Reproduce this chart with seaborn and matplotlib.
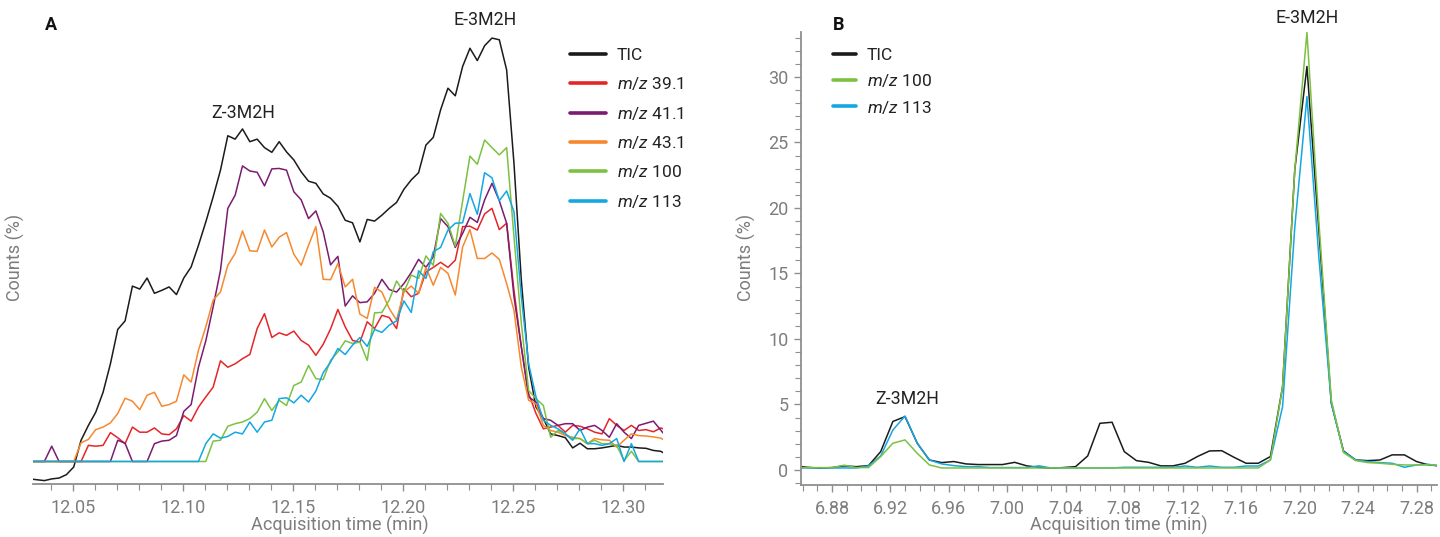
import numpy as np
import pandas as pd
import matplotlib
matplotlib.use("Agg")
import matplotlib.pyplot as plt
from matplotlib.ticker import MultipleLocator
from matplotlib.lines import Line2D
import seaborn as sns

sns.set_theme(style="white")
plt.rcParams['font.family'] = ['Roboto', 'DejaVu Sans']
plt.rcParams['mathtext.fontset'] = 'custom'
plt.rcParams['mathtext.rm'] = 'Roboto'
plt.rcParams['mathtext.it'] = 'Roboto:italic'

# ---------------- Panel A data (scan every 0.2 s) ----------------
a_start = 12.0303
a_step = 1 / 300
tic_a = [-4.1, -4.3, -4.5, -4.1, -3.9, -3.1, -1.3, 5.0, 8.5, 11.6, 16.3, 23.0, 31.1, 33.1, 41.3, 40.6,
         43.2, 39.6, 40.3, 41.1, 39.3, 43.2, 45.8, 50.9, 56.4, 62.3, 68.6, 76.7, 75.9, 78.3, 75.3, 75.9,
         73.9, 72.8, 75.3, 72.9, 71.0, 68.2, 66.0, 65.5, 63.0, 62.0, 60.1, 56.8, 56.2, 51.7, 57.0, 56.6,
         58.0, 59.6, 61.0, 64.1, 66.3, 68.0, 74.5, 76.3, 82.8, 87.9, 86.1, 93.0, 97.3, 94.4, 97.9, 99.7,
         99.3, 92.2, 70.2, 42.7, 22.2, 12.8, 10.1, 6.5, 6.1, 5.6, 3.2, 4.3, 3.0, 3.0, 3.2, 3.5,
         3.8, 3.4, 3.4, 3.2, 3.1, 2.6, 2.4, 1.4]
mz39_a = [0, 0, 0, 0, 0, 0, 0, 0, 3.8, 3.6, 3.8, 6.8, 5.6, 4.2, 8.1, 6.9,
          6.9, 7.9, 6.5, 6.3, 7.7, 10.8, 9.5, 12.8, 15.2, 17.5, 23.7, 22.2, 23.0, 24.2, 25.2, 31.3,
          34.8, 29.2, 30.3, 29.7, 30.7, 28.5, 27.4, 25.0, 27.6, 31.2, 35.8, 31.7, 28.5, 28.1, 32.9, 31.3,
          34.4, 33.9, 31.3, 40.7, 38.8, 39.6, 44.6, 45.7, 46.9, 45.7, 47.4, 55.3, 55.4, 54.5, 58.3, 59.6,
          54.6, 56.1, 40.3, 27.0, 16.0, 11.3, 7.7, 8.1, 8.5, 6.9, 8.5, 8.3, 7.7, 6.9, 6.5, 10.1,
          8.5, 7.3, 8.5, 7.3, 7.5, 7.0, 7.9, 7.3]
mz41_a = [0, 0, 0, 3.6, 0, 0, 0, 0, 0, 0, 0, 0, 5.0, 4.3, 0, 0,
          0, 4.2, 4.8, 5.0, 6.1, 11.8, 13.4, 22.2, 28.4, 36.4, 45.0, 59.6, 62.7, 69.6, 68.4, 68.1,
          64.9, 68.9, 69.0, 68.6, 63.5, 61.6, 57.2, 59.0, 54.1, 46.3, 48.3, 36.6, 39.0, 37.4, 37.6, 39.6,
          42.9, 40.5, 39.9, 41.9, 44.5, 47.6, 45.7, 48.2, 57.2, 55.3, 50.4, 53.7, 57.5, 56.3, 61.6, 65.5,
          61.4, 56.1, 38.8, 27.0, 15.2, 14.0, 10.1, 9.7, 8.5, 8.9, 8.9, 7.3, 8.1, 8.5, 7.3, 5.7,
          8.9, 6.9, 5.4, 8.5, 9.0, 9.5, 7.4, 5.3]
mz43_a = [0, 0, 0, 0, 0, 0, 0, 4.4, 5.2, 7.5, 8.1, 9.1, 11.3, 14.9, 14.2, 12.2,
          15.6, 16.3, 13.0, 13.4, 14.2, 20.4, 18.7, 26.2, 31.7, 38.0, 39.9, 46.2, 49.0, 54.3, 49.6, 49.5,
          54.5, 50.5, 52.8, 53.9, 48.8, 46.2, 50.9, 55.3, 42.9, 42.8, 46.6, 41.1, 42.9, 34.7, 33.7, 41.0,
          39.9, 36.0, 33.3, 39.9, 41.3, 39.6, 45.7, 41.5, 45.7, 44.3, 39.2, 50.5, 54.6, 47.8, 47.8, 49.1,
          47.6, 41.9, 35.6, 22.2, 14.4, 13.6, 8.5, 7.3, 6.9, 6.1, 5.7, 5.4, 4.2, 5.4, 5.1, 5.0,
          3.4, 5.0, 6.5, 6.1, 6.0, 5.8, 5.5, 4.5]
mz100_a = [0, 0, 0, 0, 0, 0, 0, 0, 0, 0, 0, 0, 0, 0, 0, 0,
           0, 0, 0, 0, 0, 0, 0, 0, 0, 4.8, 5.0, 8.3, 8.9, 9.3, 10.1, 11.6,
           14.8, 12.0, 14.4, 13.2, 17.9, 18.7, 22.6, 19.5, 19.3, 23.8, 25.8, 28.4, 27.8, 28.1, 23.8, 35.0,
           35.1, 38.0, 42.5, 39.9, 43.9, 43.1, 48.4, 46.2, 58.4, 56.1, 50.7, 61.3, 71.9, 70.0, 75.7, 73.9,
           72.2, 73.9, 52.9, 32.5, 16.7, 14.8, 13.2, 5.7, 7.3, 6.5, 5.4, 5.4, 4.2, 5.0, 4.2, 4.2,
           3.8, 0.2, 2.4, 0, 0, 0, 0, 0]
mz113_a = [0, 0, 0, 0, 0, 0, 0, 0, 0, 0, 0, 0, 0, 0, 0, 0,
           0, 0, 0, 0, 0, 0, 0, 0, 4.2, 6.5, 5.5, 5.9, 6.9, 6.5, 9.3, 6.9,
           9.3, 9.7, 14.8, 15.0, 13.8, 15.6, 14.0, 16.6, 20.9, 23.4, 26.6, 25.2, 27.4, 29.2, 27.1, 31.1,
           30.4, 32.1, 33.1, 37.8, 35.1, 44.9, 43.1, 49.4, 50.4, 54.5, 56.1, 56.2, 63.1, 58.2, 68.0, 66.8,
           61.4, 63.7, 58.8, 38.8, 23.0, 15.2, 9.7, 8.5, 7.7, 6.5, 5.0, 7.7, 4.2, 4.2, 3.8, 4.2,
           5.4, 0, 4.2, 0, 0, 0, 0, 0]

# ---------------- Panel B data (scan every 0.5 s) ----------------
b_start = 6.855
b_step = 1 / 120
tic_b = [0.31, 0.2, 0.13, 0.18, 0.31, 0.25, 0.33, 1.4, 3.7, 4.07, 2.04, 0.76, 0.56, 0.64, 0.46, 0.41,
         0.41, 0.41, 0.58, 0.31, 0.2, 0.13, 0.18, 0.25, 1.07, 3.56, 3.64, 1.4, 0.71, 0.58, 0.31, 0.31,
         0.51, 1.02, 1.45, 1.47, 0.97, 0.51, 0.51, 1.02, 6.36, 22.9, 30.8, 18.0, 5.1, 1.45, 0.76, 0.71,
         0.76, 1.15, 1.15, 0.64, 0.38, 0.31]
mz100_b = [0.18, 0.18, 0.18, 0.18, 0.36, 0.18, 0.18, 1.02, 2.04, 2.29, 1.27, 0.38, 0.15, 0.15, 0.15, 0.15,
           0.15, 0.15, 0.15, 0.15, 0.15, 0.15, 0.15, 0.15, 0.15, 0.15, 0.15, 0.15, 0.15, 0.15, 0.15, 0.15,
           0.15, 0.15, 0.15, 0.15, 0.15, 0.15, 0.15, 0.76, 6.36, 22.9, 33.4, 18.7, 5.35, 1.33, 0.71, 0.56,
           0.51, 0.43, 0.38, 0.38, 0.38, 0.38]
mz113_b = [0.15, 0.15, 0.15, 0.15, 0.15, 0.15, 0.31, 1.07, 3.05, 4.12, 2.04, 0.76, 0.46, 0.33, 0.25, 0.25,
           0.18, 0.18, 0.18, 0.18, 0.31, 0.15, 0.15, 0.15, 0.15, 0.15, 0.15, 0.2, 0.2, 0.2, 0.2, 0.2,
           0.3, 0.2, 0.3, 0.2, 0.2, 0.3, 0.3, 0.76, 4.83, 18.5, 28.5, 16.0, 5.1, 1.4, 0.76, 0.64,
           0.56, 0.51, 0.2, 0.38, 0.43, 0.25]

labels_a = ["TIC", "$m/z$ 39.1", "$m/z$ 41.1", "$m/z$ 43.1", "$m/z$ 100", "$m/z$ 113"]
labels_b = ["TIC", "$m/z$ 100", "$m/z$ 113"]
xticks_a = [12.05, 12.10, 12.15, 12.20, 12.25, 12.30]
xticks_b = [6.88, 6.92, 6.96, 7.00, 7.04, 7.08, 7.12, 7.16, 7.20, 7.24, 7.28]
yticks_b = [0, 5, 10, 15, 20, 25, 30]

C_TIC = "#1b1b1b"
C_39 = "#e52629"
C_41 = "#7b1c70"
C_43 = "#f6892f"
C_100 = "#7cc142"
C_113 = "#14a7e2"
GRAY = "#7d7d7d"
SPINE = "#8f8f8f"

W, H = 1440, 537
fig = plt.figure(figsize=(W / 100, H / 100), dpi=100)

def frac(x0, y0, x1, y1):
    return [x0 / W, 1 - y1 / H, (x1 - x0) / W, (y1 - y0) / H]

axA = fig.add_axes(frac(33, 30, 663, 484))
axB = fig.add_axes(frac(801, 31.5, 1437, 485))

tA = a_start + a_step * np.arange(len(tic_a))
dfA = pd.DataFrame({"t": tA, "TIC": tic_a, "39": mz39_a, "41": mz41_a,
                    "43": mz43_a, "100": mz100_a, "113": mz113_a})
cols_a = [("TIC", C_TIC), ("39", C_39), ("41", C_41), ("43", C_43), ("100", C_100), ("113", C_113)]
LW = 1.1
for col, c in cols_a:
    sns.lineplot(data=dfA, x="t", y=col, ax=axA, color=c, lw=LW, estimator=None, sort=False)

tB = b_start + b_step * np.arange(len(tic_b))
dfB = pd.DataFrame({"t": tB, "TIC": tic_b, "100": mz100_b, "113": mz113_b})
for col, c in [("TIC", C_TIC), ("113", C_113), ("100", C_100)]:
    sns.lineplot(data=dfB, x="t", y=col, ax=axB, color=c, lw=LW, estimator=None, sort=False)

FS = 13
# Axis A styling
axA.set_xlim(12.0318, 12.318)
axA.set_ylim(-5.3, 101.6)
axA.set_xticks(xticks_a)
axA.set_xticklabels([f"{v:.2f}" for v in xticks_a])
axA.xaxis.set_minor_locator(MultipleLocator(0.01))
axA.set_yticks([])
for s in ["top", "right", "left"]:
    axA.spines[s].set_visible(False)

axB.set_xlim(6.8588, 7.294)
axB.set_ylim(-1.15, 33.47)
axB.set_xticks(xticks_b)
axB.set_xticklabels([f"{v:.2f}" for v in xticks_b])
axB.xaxis.set_minor_locator(MultipleLocator(0.01))
axB.set_yticks(yticks_b)
axB.set_yticklabels([str(v) for v in yticks_b])
axB.yaxis.set_minor_locator(MultipleLocator(1))
for s in ["top", "right"]:
    axB.spines[s].set_visible(False)

for ax in (axA, axB):
    ax.set_facecolor("white")
    ax.grid(False)
    for s in ["bottom", "left"]:
        ax.spines[s].set_color(SPINE)
        ax.spines[s].set_linewidth(1.3)
    ax.tick_params(axis="both", which="major", direction="out", length=5, width=1,
                   color=SPINE, labelcolor=GRAY, labelsize=FS, pad=4,
                   bottom=True, left=(ax is axB))
    ax.tick_params(axis="x", which="major", pad=5.5)
    ax.tick_params(axis="both", which="minor", direction="out", length=4, width=0.8,
                   color=SPINE, bottom=True, left=(ax is axB))
    ax.set_xlabel("Acquisition time (min)", color=GRAY, fontsize=FS)
    ax.set_ylabel("Counts (%)", color=GRAY, fontsize=FS)

axA.xaxis.set_label_coords((340 - 33) / 630, (484 - 516) / 454)
axA.yaxis.set_label_coords((25 - 33) / 630, (484 - 257) / 454)
axB.xaxis.set_label_coords(0.5, (485 - 516) / 453.5)
axB.yaxis.set_label_coords((756 - 801) / 636, (485 - 257) / 453.5)

# legends
def handles(cols):
    return [Line2D([0], [0], color=c, lw=2.6) for c in cols]

legA = axA.legend(handles(
    [C_TIC, C_39, C_41, C_43, C_100, C_113]), labels_a,
    loc="upper left", bbox_to_anchor=(570 / W, 1 - 48 / H), bbox_transform=fig.transFigure,
    frameon=False, fontsize=12.5, borderpad=0, borderaxespad=0,
    handlelength=2.1, handletextpad=0.6, labelspacing=0.71)
for t in legA.get_texts():
    t.set_color("#222222")

legB = axB.legend(handles([C_TIC, C_100, C_113]), labels_b,
    loc="upper left", bbox_to_anchor=(833 / W, 1 - 48 / H), bbox_transform=fig.transFigure,
    frameon=False, fontsize=12.5, borderpad=0, borderaxespad=0,
    handlelength=1.35, handletextpad=0.6, labelspacing=0.53)
for t in legB.get_texts():
    t.set_color("#222222")

# annotations
def ftext(x, y, s, **kw):
    fig.text(x / W, 1 - y / H, s, ha="center", va="center", **kw)

ftext(51, 25, "A", fontsize=13, fontweight="bold", color="#111111")
ftext(839, 25, "B", fontsize=13, fontweight="bold", color="#111111")
ftext(243, 113, "Z-3M2H", fontsize=12.8, color="#222222")
ftext(485, 20, "E-3M2H", fontsize=12.8, color="#222222")
ftext(907.5, 399.5, "Z-3M2H", fontsize=12.8, color="#222222")
ftext(1307, 18, "E-3M2H", fontsize=12.8, color="#222222")

fig.savefig("out.png", dpi=100, facecolor="white")
